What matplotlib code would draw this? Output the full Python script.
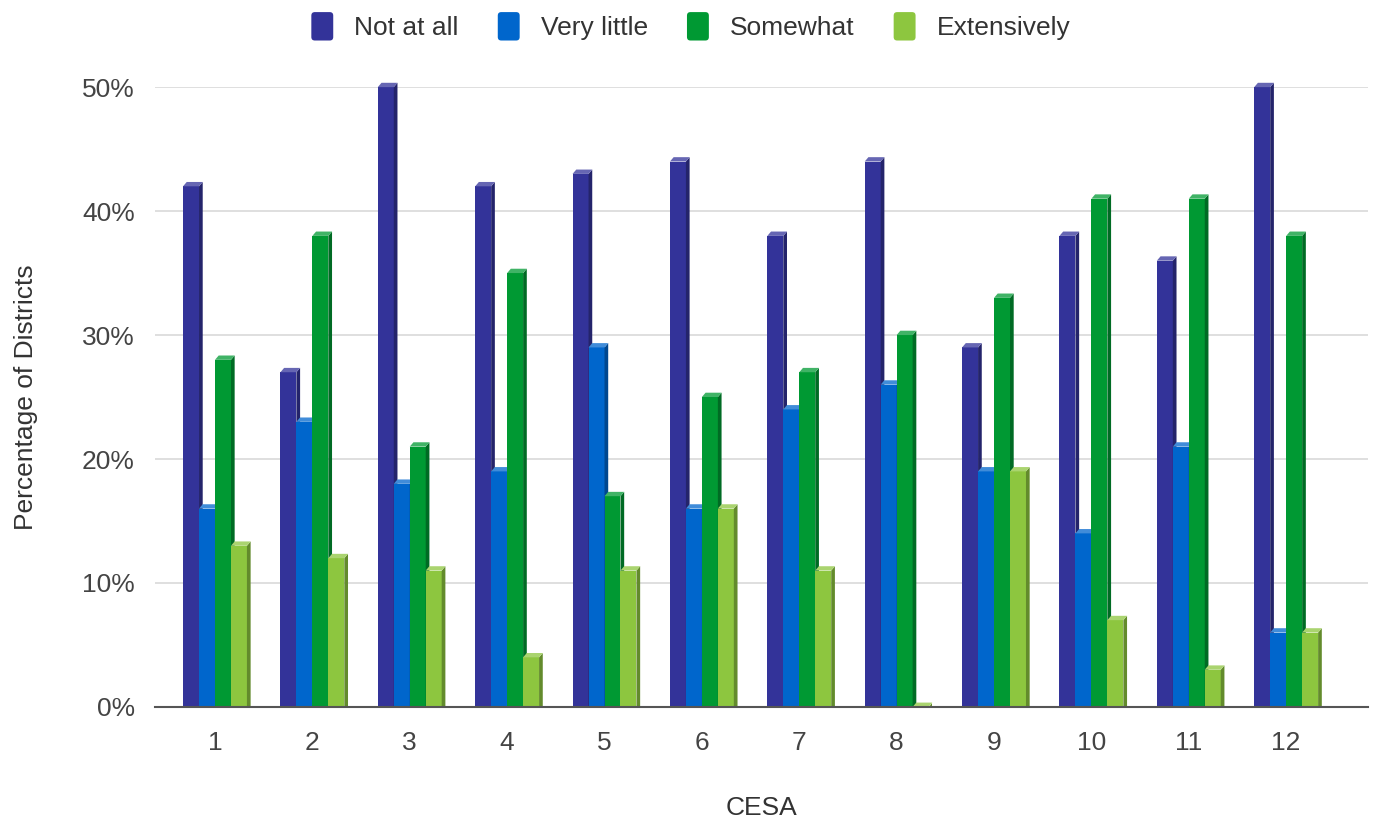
import numpy as np
import matplotlib.pyplot as plt
from matplotlib.patches import Polygon, FancyBboxPatch
from matplotlib.legend_handler import HandlerPatch
from matplotlib.ticker import FuncFormatter
from matplotlib.colors import to_rgb

plt.rcParams['font.family'] = ['Liberation Sans', 'DejaVu Sans']

# ---------------------------------------------------------
# data: percentage of districts per CESA
# ---------------------------------------------------------
cesa = ["1", "2", "3", "4", "5", "6", "7", "8", "9", "10", "11", "12"]
series = ["Not at all", "Very little", "Somewhat", "Extensively"]

not_at_all = [42, 27, 50, 42, 43, 44, 38, 44, 29, 38, 36, 50]
very_little = [16, 23, 18, 19, 29, 16, 24, 26, 19, 14, 21, 6]
somewhat = [28, 38, 21, 35, 17, 25, 27, 30, 33, 41, 41, 38]
extensively = [13, 12, 11, 4, 11, 16, 11, 0, 19, 7, 3, 6]

colors = ["#333399", "#0066cc", "#009933", "#8dc63f"]


def shade(c, f):
    r, g, b = to_rgb(c)
    if f < 1:
        return (r * f, g * f, b * f)
    return (r + (1 - r) * (f - 1), g + (1 - g) * (f - 1), b + (1 - b) * (f - 1))


class RoundedHandler(HandlerPatch):
    def create_artists(self, legend, orig_handle, xdescent, ydescent,
                       width, height, fontsize, trans):
        p = FancyBboxPatch((-xdescent, -ydescent), width, height,
                           boxstyle="round,pad=0,rounding_size=2.5",
                           facecolor=orig_handle.get_facecolor(),
                           edgecolor='none', transform=trans)
        return [p]


fig = plt.figure(figsize=(13.79, 8.22), dpi=100)
ax = fig.add_axes([0.1124, 0.140, 0.8796, 0.754])

x = np.arange(len(cesa))
w = 0.164
dx, dy = 0.038, 0.35  # fake depth of the bars

handles = []
for i, (vals, c) in enumerate(zip([not_at_all, very_little, somewhat, extensively], colors)):
    xs = x + (i - 1.5) * w
    bars = ax.bar(xs, vals, width=w, color=c, zorder=3, linewidth=0, clip_on=False)
    handles.append(bars[0])
    for x0, h in zip(xs - w / 2, vals):
        side = Polygon([(x0 + w, 0), (x0 + w + dx, 0), (x0 + w + dx, h + dy), (x0 + w, h)],
                       closed=True, facecolor=shade(c, 0.7), edgecolor='none',
                       zorder=3, clip_on=False)
        top = Polygon([(x0, h), (x0 + dx, h + dy), (x0 + w + dx, h + dy), (x0 + w, h)],
                      closed=True, facecolor=shade(c, 1.25), edgecolor='none',
                      zorder=3, clip_on=False)
        ax.add_patch(side)
        ax.add_patch(top)

ax.set_xlim(-0.616, 11.84)
ax.set_ylim(0, 50)
ax.set_yticks(np.arange(0, 51, 10))
ax.yaxis.set_major_formatter(FuncFormatter(lambda v, p: f"{v:.0f}%"))
ax.set_xticks(x)
ax.set_xticklabels(cesa)

ax.grid(axis='y', color='#d9d9d9', linewidth=1.2, zorder=0)
ax.tick_params(axis='both', length=0, labelsize=19, colors='#444444')
ax.tick_params(axis='x', pad=17)
ax.tick_params(axis='y', pad=14.5)
for s in ['top', 'right', 'left']:
    ax.spines[s].set_visible(False)
ax.spines['bottom'].set_color('#555555')
ax.spines['bottom'].set_linewidth(1.5)
ax.spines['bottom'].set_zorder(4)

ax.set_xlabel("CESA", fontsize=19, color='#333333', labelpad=30)
ax.set_ylabel("Percentage of Districts", fontsize=19, color='#333333', labelpad=32)

fig.legend(handles, series, loc='center', bbox_to_anchor=(0.501, 0.968), ncol=4,
           frameon=False, fontsize=19, handlelength=0.83, handleheight=1.28,
           columnspacing=1.48, handletextpad=0.8, labelcolor='#333333',
           handler_map={type(handles[0]): RoundedHandler()})

fig.savefig("out.png", dpi=100)
